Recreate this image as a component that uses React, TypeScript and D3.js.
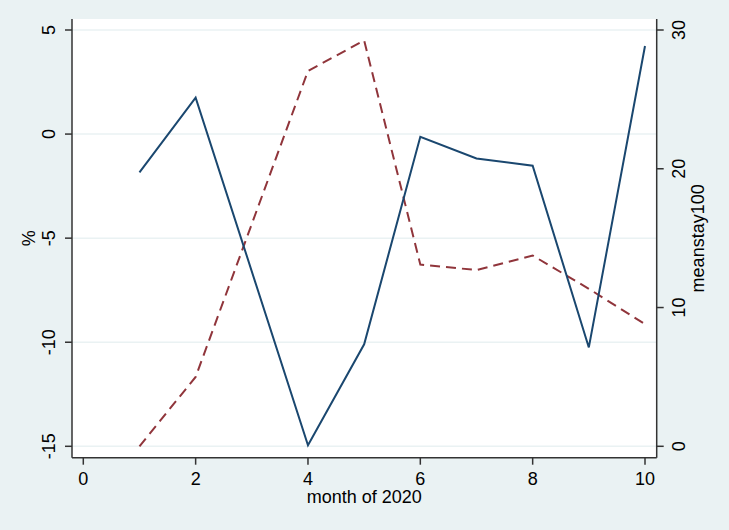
import React from 'react';
import * as d3 from 'd3';

// months on the x axis
const months = [1, 2, 4, 5, 6, 7, 8, 9, 10];
// % change (left axis), solid navy line
const pctChange = [-1.84, 1.75, -14.95, -10.1, -0.13, -1.17, -1.52, -10.25, 4.23];
// meanstay100 (right axis), dashed maroon line
const meanStay = [0.0, 5.0, 27.05, 29.25, 13.1, 12.7, 13.75, 11.35, 8.8];

const xTicks = [0, 2, 4, 6, 8, 10];
const leftTicks = [-15, -10, -5, 0, 5];
const rightTicks = [0, 10, 20, 30];

const W = 729;
const H = 530;
const plot = { left: 72, right: 656.7, top: 19, bottom: 457.7 };
const font = '"Liberation Sans", Arial, sans-serif';

export default function App() {
  const x = d3.scaleLinear().domain([0, 10]).range([83.3, 645]);
  const yL = d3.scaleLinear().domain([-15, 5]).range([446.3, 30]);
  const yR = d3.scaleLinear().domain([0, 30]).range([446.3, 30]);

  const pctLine = d3.line<number>()
    .x((_, i) => x(months[i]))
    .y(d => yL(d))(pctChange) || '';
  const stayLine = d3.line<number>()
    .x((_, i) => x(months[i]))
    .y(d => yR(d))(meanStay) || '';

  const midY = (plot.top + plot.bottom) / 2;
  const midX = (plot.left + plot.right) / 2;

  return (
    <svg width={W} height={H} style={{ position: 'absolute', left: 0, top: 0, display: 'block' }}
      fontFamily={font}>
      <rect x={0} y={0} width={W} height={H} fill="#EAF2F3" />
      <rect x={plot.left} y={plot.top} width={plot.right - plot.left} height={plot.bottom - plot.top} fill="#fff" />

      {/* grid lines at left axis ticks */}
      {leftTicks.map(t => (
        <line key={'g' + t} x1={plot.left} x2={plot.right} y1={yL(t)} y2={yL(t)}
          stroke="#EAF2F3" strokeWidth={1.5} />
      ))}

      {/* series */}
      <path d={stayLine} fill="none" stroke="#90353B" strokeWidth={2} strokeDasharray="10,6" />
      <path d={pctLine} fill="none" stroke="#1A476F" strokeWidth={2} />

      {/* axes */}
      <g stroke="#333" strokeWidth={1.5}>
        <line x1={plot.left} x2={plot.left} y1={plot.top} y2={plot.bottom} />
        <line x1={plot.right} x2={plot.right} y1={plot.top} y2={plot.bottom} />
        <line x1={plot.left} x2={plot.right} y1={plot.bottom} y2={plot.bottom} />
        {leftTicks.map(t => (
          <line key={'lt' + t} x1={plot.left - 7} x2={plot.left} y1={yL(t)} y2={yL(t)} />
        ))}
        {rightTicks.map(t => (
          <line key={'rt' + t} x1={plot.right} x2={plot.right + 7} y1={yR(t)} y2={yR(t)} />
        ))}
        {xTicks.map(t => (
          <line key={'xt' + t} x1={x(t)} x2={x(t)} y1={plot.bottom} y2={plot.bottom + 7} />
        ))}
      </g>

      <g fontSize={18} fill="#000" textAnchor="middle">
        {leftTicks.map(t => (
          <text key={'ll' + t} transform={`translate(55,${yL(t)}) rotate(-90)`}>{t}</text>
        ))}
        {rightTicks.map(t => (
          <text key={'rl' + t} transform={`translate(685,${yR(t)}) rotate(-90)`}>{t}</text>
        ))}
        {xTicks.map(t => (
          <text key={'xl' + t} x={x(t)} y={485}>{t}</text>
        ))}
        <text x={midX} y={503}>month of 2020</text>
        <text transform={`translate(35,${midY}) rotate(-90)`}>%</text>
        <text transform={`translate(704,${midY}) rotate(-90)`}>meanstay100</text>
      </g>
    </svg>
  );
}
